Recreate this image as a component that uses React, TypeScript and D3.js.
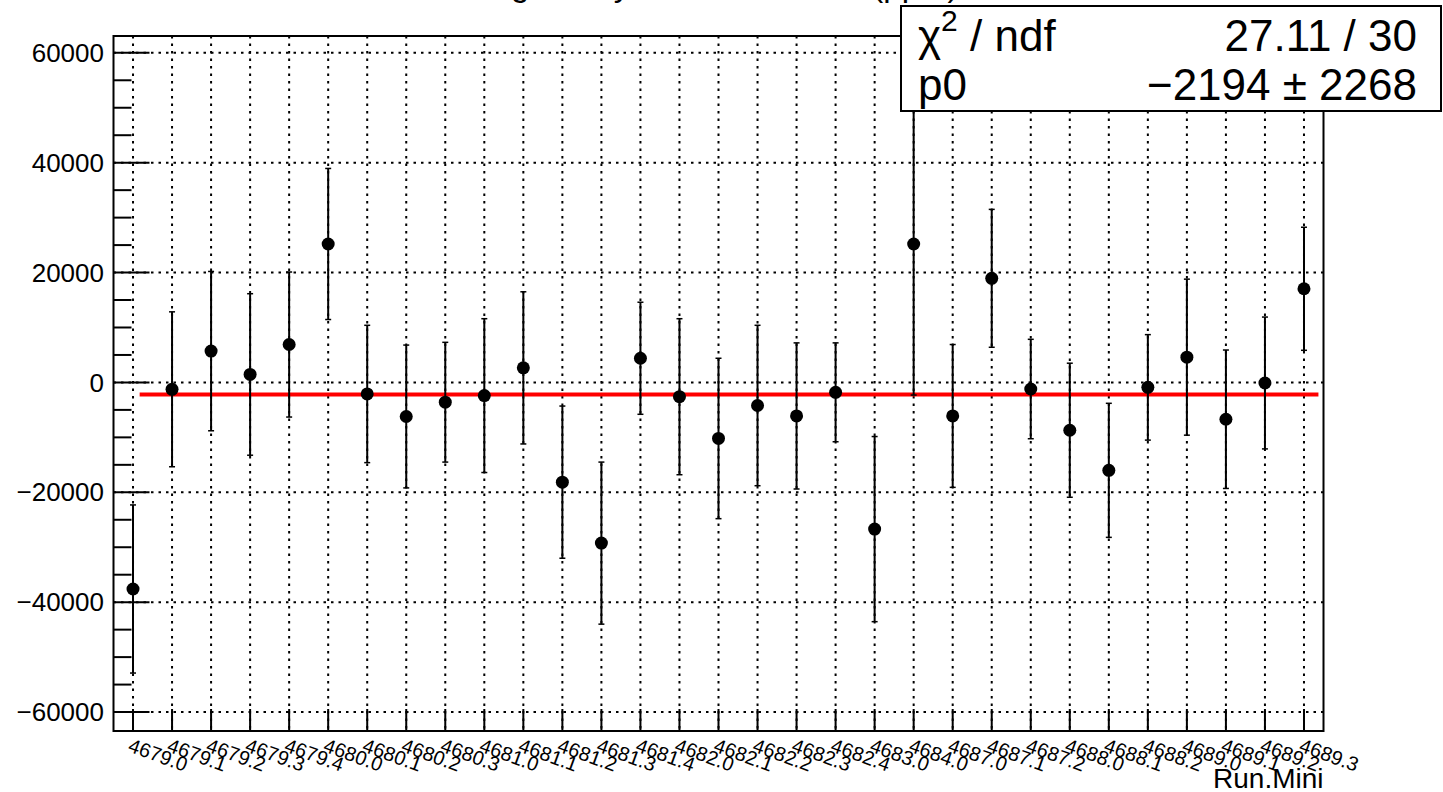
import React from "react";
import * as d3 from "d3";

const runs = ["4679.0","4679.1","4679.2","4679.3","4679.4","4680.0","4680.1","4680.2","4680.3","4681.0","4681.1","4681.2","4681.3","4681.4","4682.0","4682.1","4682.2","4682.3","4682.4","4683.0","4684.0","4687.0","4687.1","4687.2","4688.0","4688.1","4688.2","4689.0","4689.1","4689.2","4689.3"];
const values = [-37600, -1250, 5700, 1450, 6900, 25200, -2100, -6200, -3600, -2400, 2650, -18150, -29250, 4400, -2600, -10200, -4200, -6100, -1800, -26700, 25200, -6100, 18950, -1200, -8700, -16000, -900, 4600, -6700, -100, 17050];
const errors = [15300, 14100, 14500, 14700, 13200, 13750, 12500, 13000, 10900, 14000, 13850, 13850, 14750, 10200, 14200, 14600, 14600, 13300, 9000, 16850, 27500, 13000, 12550, 9050, 12200, 12200, 9600, 14200, 12600, 12000, 11200];
const yMajorTicks = [-60000, -40000, -20000, 0, 20000, 40000, 60000];
const fitP0 = -2194;
const fitRange = [0.17, 30.37];
const statsRows = [
  { label: "chi2", value: "27.11 / 30" },
  { label: "p0", value: "\u22122194 \u00b1 2268" },
];
const titleText = "Integrated yield vs Run.Mini (ppm)";
const xTitle = "Run.Mini";

const W = 1443, H = 792;
const L = 113.5, R = 1323.5, T = 36, B = 731;
const FONT = "'Liberation Sans', Arial, Helvetica, sans-serif";

export default function App() {
  const x = d3.scaleLinear().domain([-0.5, runs.length - 0.5]).range([L, R]);
  const y = d3.scaleLinear().domain([-63450, 63060]).range([B, T]);
  const minor = d3.range(-65000, 65001, 5000).filter((v) => v >= y.domain()[0] && v <= y.domain()[1] && v % 20000 !== 0);
  const fmt = (v: number) => (v < 0 ? "\u2212" + Math.abs(v) : String(v));
  const line = d3.line<number>().x((d) => x(d)).y(() => y(fitP0));
  const dots = "2.5 5";
  return (
    <svg width={W} height={H} style={{ position: "absolute", left: 0, top: 0, background: "#fff" }} fontFamily={FONT}>
      <rect x={0} y={0} width={W} height={H} fill="#fff" />
      <text x={456} y={-4} fontSize={33} fill="#000">{titleText}</text>
      {/* grid */}
      {runs.map((r, i) => (
        <line key={"gx" + r} x1={x(i)} x2={x(i)} y1={T} y2={B} stroke="#000" strokeWidth={2} strokeDasharray={dots} />
      ))}
      {yMajorTicks.map((v) => (
        <line key={"gy" + v} x1={L} x2={R} y1={y(v)} y2={y(v)} stroke="#000" strokeWidth={2} strokeDasharray={dots} />
      ))}
      {/* ticks */}
      {yMajorTicks.map((v) => (
        <g key={"ty" + v}>
          <line x1={L} x2={L + 36} y1={y(v)} y2={y(v)} stroke="#000" strokeWidth={2} />
          <text x={104} y={y(v)} dy="0.35em" textAnchor="end" fontSize={26}>{fmt(v)}</text>
        </g>
      ))}
      {minor.map((v) => (
        <line key={"my" + v} x1={L} x2={L + 18} y1={y(v)} y2={y(v)} stroke="#000" strokeWidth={2} />
      ))}
      {runs.map((r, i) => (
        <g key={"tx" + r}>
          <line x1={x(i)} x2={x(i)} y1={B} y2={B - 22} stroke="#000" strokeWidth={2} />
          <text transform={`translate(${x(i) - 6},${B + 20}) rotate(20)`} fontSize={20}>{r}</text>
        </g>
      ))}
      {/* fit line */}
      <path d={line(fitRange) || ""} stroke="#ff0000" strokeWidth={4} fill="none" />
      {/* points */}
      {runs.map((r, i) => {
        const cx = x(i);
        const top = y(values[i] + errors[i]);
        const bot = y(values[i] - errors[i]);
        return (
          <g key={"p" + r}>
            <line x1={cx} x2={cx} y1={top} y2={bot} stroke="#000" strokeWidth={2} />
            <line x1={cx - 3} x2={cx + 3} y1={top} y2={top} stroke="#000" strokeWidth={1.5} />
            <line x1={cx - 3} x2={cx + 3} y1={bot} y2={bot} stroke="#000" strokeWidth={1.5} />
            <circle cx={cx} cy={y(values[i])} r={6.5} fill="#000" />
          </g>
        );
      })}
      {/* frame */}
      <rect x={L} y={T} width={R - L} height={B - T} fill="none" stroke="#000" strokeWidth={2} />
      {/* axis title */}
      <text x={R} y={788} textAnchor="end" fontSize={28}>{xTitle}</text>
      {/* stats box */}
      <rect x={901} y={6} width={540} height={105} fill="#fff" stroke="#000" strokeWidth={2} />
      <text x={918} y={51} fontSize={44}>
        <tspan>{"\u03c7"}</tspan>
        <tspan dy={-20} fontSize={30}>2</tspan>
        <tspan dy={20}>{" / ndf"}</tspan>
      </text>
      <text x={1417} y={51} fontSize={44} textAnchor="end">{statsRows[0].value}</text>
      <text x={918} y={100} fontSize={44}>{statsRows[1].label}</text>
      <text x={1417} y={100} fontSize={44} textAnchor="end">{statsRows[1].value}</text>
    </svg>
  );
}
